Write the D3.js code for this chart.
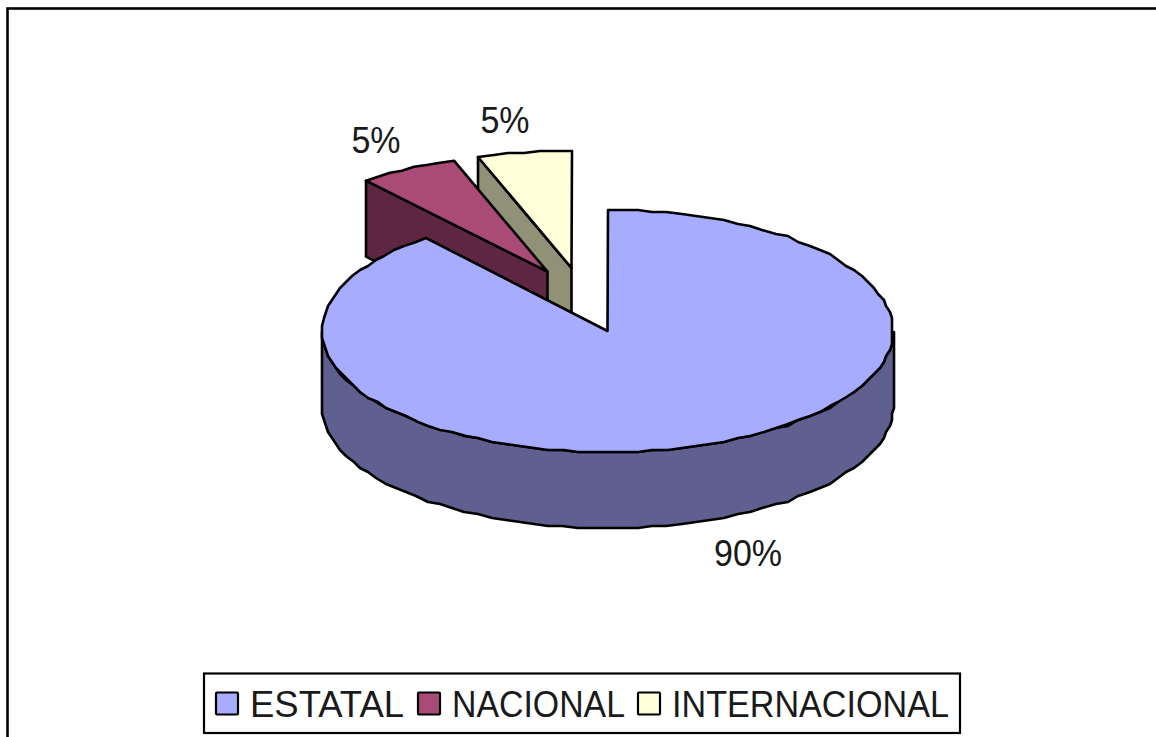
<!DOCTYPE html>
<html><head><meta charset="utf-8">
<script src="https://cdn.jsdelivr.net/npm/d3@7"></script>
<style>html,body{margin:0;padding:0;background:#fff;overflow:hidden}svg{display:block}text{font-family:"Liberation Sans",Arial,sans-serif;fill:#1a1a1a}</style>
</head><body><svg id="c" width="1156" height="737"></svg>
<script>
const categories = ["ESTATAL", "NACIONAL", "INTERNACIONAL"];
const values = [89.1, 5.6, 5.3];
const percentLabels = ["90%", "5%", "5%"];
const topColors = ["#A8ACFF", "#A94A77", "#FFFFD9"];
const wallColors = ["#5F6090", "#5F2644", "#919178"];

const W = 1156, H = 737;
const svg = d3.select("#c");
const cx = 607.5, cy = 331, rx = 285.5, depth = 76;
const sliceRy = [121, 117.5, 117.5];
const explode = [[0, 0], [-60, -59.3], [-36, -63]];
const labelPos = [[748, 566], [376, 152.5], [505, 133]];

// unit-circle projection through linear scales
const sx = d3.scaleLinear().domain([-1, 1]).range([cx - rx, cx + rx]);
const syFor = i => d3.scaleLinear().domain([-1, 1]).range([cy - sliceRy[i], cy + sliceRy[i]]);
const arcs = d3.pie().sort(null).value(d => d).startAngle(0).endAngle(2 * Math.PI)(values);

const line = d3.line().curve(d3.curveLinear);
const snap = v => Math.round(v / 2) * 2;
function rim(i, a0, a1, dz) {
  const sy = syFor(i), off = explode[i];
  const pts = [], step = 3 * Math.PI / 180;
  const n = Math.max(1, Math.round(Math.abs(a1 - a0) / step));
  for (let k = 0; k <= n; k++) {
    const t = a0 + (a1 - a0) * k / n;
    pts.push([snap(sx(Math.sin(t))) + off[0], snap(sy(-Math.cos(t))) + off[1] + dz]);
  }
  return pts;
}
const apex = (i, dz) => [sx(0) + explode[i][0], syFor(i)(0) + explode[i][1] + dz];
const mark = (d, fill) => svg.append("path").attr("d", d).attr("fill", fill)
  .attr("stroke", "#000").attr("stroke-width", 2.6).attr("stroke-linejoin", "round");

// frame
svg.append("rect").attr("x", 7.5).attr("y", 8.5).attr("width", W + 20).attr("height", H + 20)
  .attr("fill", "#fff").attr("stroke", "#000").attr("stroke-width", 2.6);

// exploded slices, back to front
[2, 1].forEach(i => {
  const a = arcs[i];
  const p0 = rim(i, a.startAngle, a.startAngle, 0)[0];
  mark(line([p0, apex(i, 0), apex(i, depth), [p0[0], p0[1] + depth]]) + "Z", wallColors[i]);
  mark(line([apex(i, 0), ...rim(i, a.startAngle, a.endAngle, 0)]) + "Z", topColors[i]);
});

// main slice: front wall, then top
const a = arcs[0];
const frontTop = rim(0, Math.PI / 2, Math.PI * 1.5, 0);
const frontBot = rim(0, Math.PI * 1.5, Math.PI / 2, depth);
mark(line([...frontTop, ...frontBot]) + "Z", wallColors[0]);
mark(line([apex(0, 0), ...rim(0, a.startAngle, a.endAngle, 0)]) + "Z", topColors[0]);

// percentage labels
percentLabels.forEach((t, i) => svg.append("text")
  .attr("transform", `translate(${labelPos[i][0]},${labelPos[i][1]}) scale(1,1.06)`)
  .attr("text-anchor", "middle").attr("font-size", 34).text(t));

// legend
svg.append("rect").attr("x", 204).attr("y", 673.5).attr("width", 756).attr("height", 59.5)
  .attr("fill", "#fff").attr("stroke", "#000").attr("stroke-width", 2.2);
const swatchX = [216, 418, 638];
const legendTextWidth = [154, 173, 277];
categories.forEach((c, i) => {
  svg.append("rect").attr("x", swatchX[i]).attr("y", 692.5).attr("width", 22).attr("height", 22)
    .attr("rx", 1).attr("fill", topColors[i]).attr("stroke", "#000").attr("stroke-width", 2.2);
  svg.append("text").attr("transform", `translate(${swatchX[i] + 34},717) scale(1,1.07)`)
    .attr("font-size", 35).attr("textLength", legendTextWidth[i])
    .attr("lengthAdjust", "spacingAndGlyphs").text(c);
});
</script></body></html>
